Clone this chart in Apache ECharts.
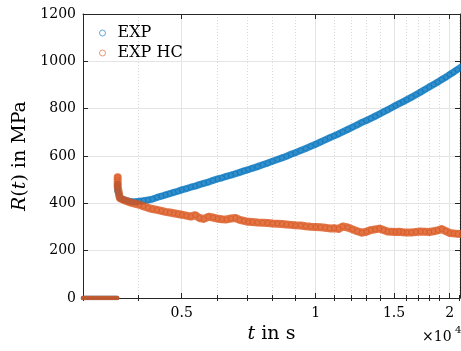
<!DOCTYPE html>
<html>
<head>
<meta charset="utf-8">
<script src="https://cdn.jsdelivr.net/npm/echarts@6/dist/echarts.min.js"></script>
<style>
  html, body { margin: 0; padding: 0; background: #fff; }
  #chart { width: 461px; height: 351px; }
</style>
</head>
<body>
<div id="chart"></div>
<script>
// time in s (x axis is logarithmic), resistance R(t) in MPa
const timeS = [
  3000, 3050, 3100, 3150, 3200, 3250, 3300, 3350, 3400, 3450, 3500, 3540, 3580,
  3585,
  3590, 3590, 3590, 3590, 3590,
  3630, 3700, 3780, 3860, 3940, 4020, 4100, 4200, 4300, 4400,
  4500, 4600, 4700, 4800, 4900, 5000, 5120, 5240, 5360, 5480,
  5600, 5740, 5880, 6020, 6160, 6300, 6450, 6600, 6750, 6900,
  7050, 7200, 7400, 7600, 7800, 8000, 8200, 8400, 8600, 8800,
  9000, 9250, 9500, 9750, 10000, 10250, 10500, 10750, 11000, 11250,
  11500, 11800, 12100, 12400, 12700, 13000, 13300, 13600, 13900, 14200,
  14500, 14800, 15100, 15400, 15700, 16000, 16400, 16800, 17200, 17600,
  18000, 18400, 18800, 19200, 19600, 20000, 20400, 20800, 21200
];

const expR = [
  0, 0, 0, 0, 0, 0, 0, 0, 0, 0, 0, 0, 0,
  null,
  480, 470, 462, 455, 450,
  423, 416, 410, 407, 407, 409, 411, 414, 418, 425,
  430, 436, 441, 446, 451, 457, 462, 468, 473, 479,
  484, 490, 497, 503, 508, 514, 519, 525, 531, 537,
  542, 548, 555, 563, 570, 578, 585, 592, 599, 607,
  614, 623, 632, 641, 650, 659, 668, 677, 685, 693,
  702, 712, 722, 732, 742, 750, 759, 768, 777, 786,
  795, 804, 813, 821, 829, 837, 848, 859, 870, 881,
  892, 902, 912, 923, 933, 944, 954, 965, 975
];

const expHcR = [
  0, 0, 0, 0, 0, 0, 0, 0, 0, 0, 0, 0, 0,
  null,
  510, 500, 490, 480, 470,
  422, 414, 408, 402, 398, 394, 388, 381, 376, 372,
  368, 364, 361, 358, 355, 352, 348, 344, 350, 338,
  334, 343, 340, 335, 333, 332, 336, 338, 330, 326,
  322, 321, 319, 318, 317, 315, 314, 313, 311, 309,
  307, 306, 303, 301, 300, 299, 297, 294, 295, 292,
  302, 298, 290, 282, 276, 280, 287, 290, 293, 287,
  281, 280, 279, 280, 278, 277, 277, 279, 281, 280,
  279, 282, 286, 291, 283, 275, 273, 271, 270
];

const majorTicks = [5000, 10000, 15000, 20000];
const minorTicks = [3000, 4000, 6000, 7000, 8000, 9000, 11000, 12000, 13000,
  14000, 16000, 17000, 18000, 19000, 21000];
const xMin = 3000;
const xMax = 21100;
const preloadCount = 13; // samples before loading starts (R = 0)

const FONT = "DejaVu Serif";
const AXIS_COLOR = "#262626";
const BLUE = "0,114,189";
const ORANGE = "217,83,25";

function toPoints(values) {
  return timeS.map((t, i) => [Math.log10(t), values[i] === null ? "-" : values[i]]);
}

const logMajor = majorTicks.map(Math.log10);
const logMinor = minorTicks.map(Math.log10);

function xAxisBase(position) {
  return {
    type: "value",
    position: position,
    min: Math.log10(xMin),
    max: Math.log10(xMax),
    axisLine: { show: false },
    axisTick: { show: false },
    axisLabel: { show: false },
    splitLine: { show: false }
  };
}

function bandSeries(name, values, rgb, width, z) {
  const pts = toPoints(values);
  const common = {
    name: name,
    type: "line",
    xAxisIndex: 0,
    yAxisIndex: 0,
    connectNulls: false,
    symbol: "circle",
    symbolSize: 5,
    showSymbol: true,
    itemStyle: { color: "rgba(255,255,255,0)", borderColor: `rgba(${rgb},0.55)`, borderWidth: 1 },
    emphasis: { disabled: true },
    z: z
  };
  return [
    Object.assign({}, common, {
      data: pts.slice(0, preloadCount),
      showSymbol: false,
      lineStyle: { color: `rgba(${rgb},0.85)`, width: 4.5, cap: "round" }
    }),
    Object.assign({}, common, {
      data: pts.slice(preloadCount + 1),
      lineStyle: { color: `rgba(${rgb},0.8)`, width: width, cap: "round", join: "round" }
    })
  ];
}

const chart = echarts.init(document.getElementById("chart"), null, { renderer: "canvas" });

const option = {
  animation: false,
  backgroundColor: "#fff",
  grid: { left: 83, right: 1, top: 14, bottom: 53, containLabel: false, outerBoundsMode: "none" },
  legend: {
    orient: "vertical",
    left: 99,
    top: 25,
    padding: 0,
    itemWidth: 12,
    itemHeight: 6,
    itemGap: 4,
    textStyle: { fontFamily: FONT, fontSize: 16, color: "#000", padding: [0, 0, 0, 4] },
    data: [
      { name: "EXP", icon: "circle",
        itemStyle: { color: "#fff", borderColor: `rgba(${BLUE},0.6)`, borderWidth: 1 } },
      { name: "EXP HC", icon: "circle",
        itemStyle: { color: "#fff", borderColor: `rgba(${ORANGE},0.6)`, borderWidth: 1 } }
    ]
  },
  xAxis: [
    Object.assign(xAxisBase("bottom"), {
      axisLine: { show: true, onZero: false, lineStyle: { color: AXIS_COLOR, width: 1 } },
      axisTick: { show: true, inside: true, length: 5, customValues: logMajor,
        lineStyle: { color: AXIS_COLOR } },
      axisLabel: {
        show: true, customValues: logMajor, margin: 8,
        fontFamily: FONT, fontSize: 14, color: "#000",
        formatter: (v) => String(Math.round(Math.pow(10, v)) / 10000)
      },
      splitLine: { show: true, lineStyle: { color: "#e4e4e4", width: 1 } },
      name: "{i|t} in s",
      nameLocation: "middle",
      nameGap: 25,
      nameTextStyle: {
        fontFamily: FONT, fontSize: 19, color: "#000",
        rich: { i: { fontFamily: FONT, fontSize: 19, fontStyle: "italic", color: "#000" } }
      }
    }),
    Object.assign(xAxisBase("bottom"), {
      axisTick: { show: true, inside: true, length: 3, customValues: logMinor,
        lineStyle: { color: AXIS_COLOR } },
      splitLine: { show: true, lineStyle: { color: "#d9d9d9", width: 1, type: [1, 2] } }
    }),
    Object.assign(xAxisBase("top"), {
      axisLine: { show: true, onZero: false, lineStyle: { color: AXIS_COLOR, width: 1 } },
      axisTick: { show: true, inside: true, length: 5, customValues: logMajor,
        lineStyle: { color: AXIS_COLOR } }
    }),
    Object.assign(xAxisBase("top"), {
      axisTick: { show: true, inside: true, length: 3, customValues: logMinor,
        lineStyle: { color: AXIS_COLOR } }
    })
  ],
  yAxis: [
    {
      type: "value",
      position: "left",
      min: 0,
      max: 1200,
      interval: 200,
      axisLine: { show: true, onZero: false, lineStyle: { color: AXIS_COLOR, width: 1 } },
      axisTick: { show: true, inside: true, length: 5, lineStyle: { color: AXIS_COLOR } },
      axisLabel: { margin: 7, fontFamily: FONT, fontSize: 14, color: "#000",
        formatter: (v) => String(v) },
      splitLine: { show: true, lineStyle: { color: "#e4e4e4", width: 1 } },
      name: "{i|R}({i|t}) in MPa",
      nameLocation: "middle",
      nameGap: 42,
      nameTextStyle: {
        fontFamily: FONT, fontSize: 19, color: "#000",
        rich: { i: { fontFamily: FONT, fontSize: 19, fontStyle: "italic", color: "#000" } }
      }
    },
    {
      type: "value",
      position: "right",
      min: 0,
      max: 1200,
      interval: 200,
      axisLine: { show: true, onZero: false, lineStyle: { color: AXIS_COLOR, width: 1 } },
      axisTick: { show: true, inside: true, length: 5, lineStyle: { color: AXIS_COLOR } },
      axisLabel: { show: false },
      splitLine: { show: false }
    }
  ],
  graphic: [
    { type: "text", left: 422, top: 330,
      style: { text: "×10", fontFamily: FONT, fontSize: 14, fill: "#000" } },
    { type: "text", left: 455, top: 325,
      style: { text: "4", fontFamily: FONT, fontSize: 10, fill: "#000" } }
  ],
  series: [].concat(
    bandSeries("EXP", expR, BLUE, 7, 2),
    bandSeries("EXP HC", expHcR, ORANGE, 8, 3)
  )
};

chart.setOption(option);
</script>
</body>
</html>
